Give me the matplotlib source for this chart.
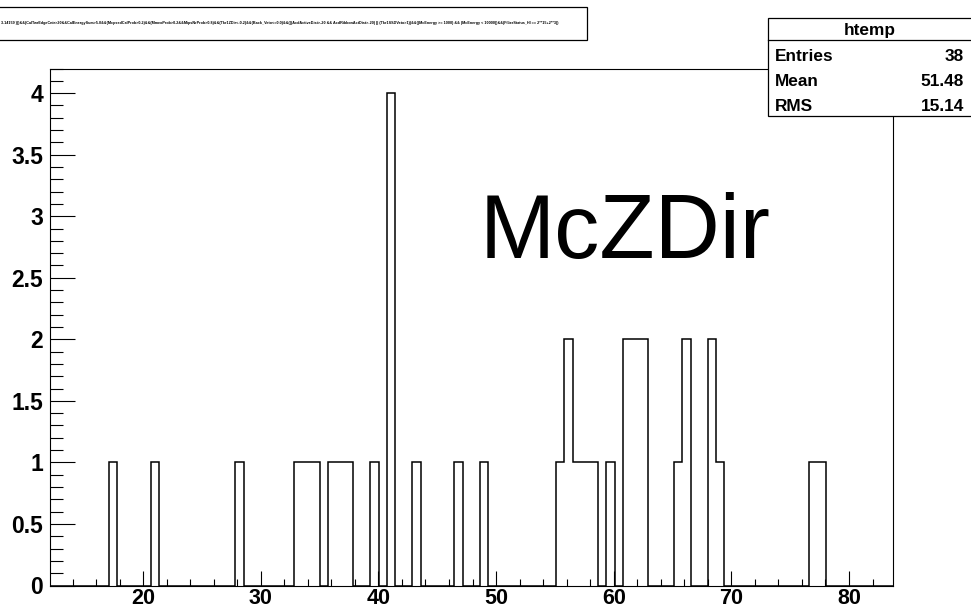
import numpy as np
import matplotlib
matplotlib.use('Agg')
from matplotlib import pyplot as plt
from matplotlib.ticker import MultipleLocator, FuncFormatter
from matplotlib.patches import Rectangle

# htemp: 100 bins, range
x_min = 12.05
x_max = 83.75
n_bins = 100
# non-empty bins (index, content)
bin_index = [7, 12, 22, 29, 30, 31, 33, 34, 35, 38, 40, 43, 48, 51,
             60, 61, 62, 63, 64, 66, 68, 69, 70, 74, 75, 78, 79, 90, 91]
bin_count = [1, 1, 1, 1, 1, 1, 1, 1, 1, 1, 4, 1, 1, 1,
             1, 2, 1, 1, 1, 1, 2, 2, 2, 1, 2, 2, 1, 1, 1]
stat_names = ['Entries', 'Mean', 'RMS']
stat_values = ['38', '51.48', '15.14']
hist_name = 'htemp'
var_name = 'McZDir'
cut_title = ('3.14159 )))&&(CalTwrEdgeCntr>20&&CalEnergySum>5.0&&(McpsedCalProb>0.2)&&'
             '(MmeoProb>0.2&&MipsNrProb>0.8)&&(Tkr1ZDir<-0.2)&&(Back_Veto<=0.0)&&'
             '(((AcdActiveDist>-20 && AcdRibbonActDist>-20) || (Tkr1SSDVeto>1))&&'
             '((McEnergy >= 1000) && (McEnergy < 10000))&&(FilterStatus_HI == 2**15+2**3))')

plt.rcParams['font.family'] = ['Liberation Sans', 'DejaVu Sans']

W, H = 971, 610
fig = plt.figure(figsize=(W / 100, H / 100), dpi=100)
ax = fig.add_axes([49.6 / W, 1 - 585.5 / H, (893.1 - 49.6) / W, (585.5 - 68.5) / H])

edges = np.linspace(x_min, x_max, n_bins + 1)
counts = np.zeros(n_bins)
counts[bin_index] = bin_count
ax.stairs(counts, edges, color='black', lw=1.1)

ax.set_xlim(x_min, x_max)
ax.set_ylim(0, 1.05 * counts.max())

ax.xaxis.set_major_locator(MultipleLocator(10))
ax.xaxis.set_minor_locator(MultipleLocator(2))
ax.yaxis.set_major_locator(MultipleLocator(0.5))
ax.yaxis.set_minor_locator(MultipleLocator(0.1))
ax.yaxis.set_major_formatter(FuncFormatter(lambda v, p: ('%g' % v)))

ax.tick_params(axis='both', which='both', direction='in', width=0.8, top=False, right=False)
ax.tick_params(axis='x', which='major', length=10.8, pad=1.5, labelsize=15.5)
ax.tick_params(axis='x', which='minor', length=5.4)
ax.tick_params(axis='y', which='major', length=18, pad=4.5, labelsize=16.5)
ax.tick_params(axis='y', which='minor', length=9)
for lab in ax.get_xticklabels() + ax.get_yticklabels():
    lab.set_fontweight('bold')
for s in ax.spines.values():
    s.set_linewidth(0.8)

# title box with the cut string
fig.patches.append(Rectangle((-5 / W, 1 - 40 / H), 592 / W, 33 / H, transform=fig.transFigure,
                             fill=True, facecolor='white', edgecolor='black', lw=0.9))
fig.text(558 / W, 1 - 23 / H, cut_title, ha='right', va='center', fontsize=2.7,
         fontweight='bold')

# stats box
fig.patches.append(Rectangle((768 / W, 1 - 116 / H), 210 / W, 98.5 / H, transform=fig.transFigure,
                             facecolor='white', edgecolor='black', lw=0.9, zorder=5))
fig.lines.append(plt.Line2D([768 / W, 1], [1 - 40 / H, 1 - 40 / H], transform=fig.transFigure,
                            color='black', lw=0.9, zorder=6))
fig.text(870 / W, 1 - 35.5 / H, hist_name, ha='center', va='baseline', fontsize=12.4,
         fontweight='bold', zorder=7)
for i in range(len(stat_names)):
    yb = 1 - (60.7 + 25.3 * i) / H
    fig.text(775 / W, yb, stat_names[i], ha='left', va='baseline', fontsize=12.4,
             fontweight='bold', zorder=7)
    fig.text(964 / W, yb, stat_values[i], ha='right', va='baseline', fontsize=12.4,
             fontweight='bold', zorder=7)

# variable name drawn on the pad
fig.text(480 / W, 1 - 258.3 / H, var_name, ha='left', va='baseline', fontsize=65)

fig.savefig('out.png', dpi=100)
